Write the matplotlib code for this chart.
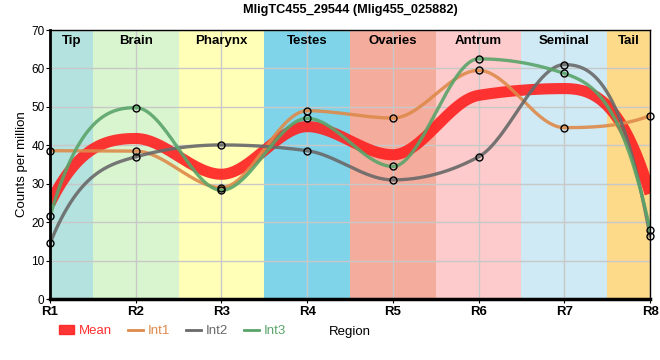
import matplotlib

matplotlib.use("Agg")
import matplotlib.pyplot as plt
import numpy as np
from matplotlib.lines import Line2D
from matplotlib.patches import Patch

plt.rcParams["font.family"] = ["Liberation Sans", "DejaVu Sans"]

regions = ["R1", "R2", "R3", "R4", "R5", "R6", "R7", "R8"]
int1 = [38.6, 38.5, 29.0, 49.0, 47.1, 59.5, 44.6, 47.7]
int2 = [14.5, 37.0, 40.1, 38.6, 31.0, 37.0, 61.0, 16.5]
int3 = [21.5, 49.8, 28.3, 47.0, 34.5, 62.5, 58.7, 18.0]

tissues = ["Tip", "Brain", "Pharynx", "Testes", "Ovaries", "Antrum", "Seminal", "Tail"]
tissue_colors = ["#b4e2de", "#d9f5cf", "#ffffb8", "#7fd4ea", "#f4ac9d", "#fdcbcb", "#cfeaf4", "#fdd98a"]


def monotone(x, y, n=60, end_k=1.8):
    # monotone hermite interpolation, steeper end tangents
    x = np.asarray(x, float)
    y = np.asarray(y, float)
    h = np.diff(x)
    s = np.diff(y) / h
    t = np.zeros(len(x))
    for i in range(1, len(x) - 1):
        p = (s[i - 1] * h[i] + s[i] * h[i - 1]) / (h[i - 1] + h[i])
        t[i] = (np.sign(s[i - 1]) + np.sign(s[i])) * min(abs(s[i - 1]), abs(s[i]), 0.5 * abs(p))
    t[0] = end_k * (3 * s[0] - t[1]) / 2
    t[-1] = end_k * (3 * s[-1] - t[-2]) / 2
    xs, ys = [], []
    for i in range(len(x) - 1):
        u = np.linspace(0, 1, n)
        h00 = 2 * u**3 - 3 * u**2 + 1
        h10 = u**3 - 2 * u**2 + u
        h01 = -2 * u**3 + 3 * u**2
        h11 = u**3 - u**2
        xs.append(x[i] + u * h[i])
        ys.append(h00 * y[i] + h10 * h[i] * t[i] + h01 * y[i + 1] + h11 * h[i] * t[i + 1])
    return np.concatenate(xs), np.concatenate(ys)


xpos = np.arange(1, len(regions) + 1)
mean = (np.array(int1) + np.array(int2) + np.array(int3)) / 3

fig = plt.figure(figsize=(6.6, 3.6), dpi=100)
ax = fig.add_axes([0.0758, 0.1694, 0.9091, 0.7472])

edges = [1, 1.5, 2.5, 3.5, 4.5, 5.5, 6.5, 7.5, 8]
for i, (name, col) in enumerate(zip(tissues, tissue_colors)):
    ax.axvspan(edges[i], edges[i + 1], color=col, lw=0, zorder=0)
    ax.text((edges[i] + edges[i + 1]) / 2, 68.6, name, ha="center", va="top",
            fontsize=9.5, fontweight="bold", zorder=5)

ax.grid(True, color="#c8c8c8", lw=1, zorder=1)
for gl in ax.get_xgridlines() + ax.get_ygridlines():
    gl.set_zorder(1)

series = [(int1, "#de8a4a", "Int1"), (int2, "#696969", "Int2"), (int3, "#5aa46a", "Int3")]
xm, ym = monotone(xpos, mean)
ax.plot(xm, ym, color="#ff2020", lw=8, alpha=0.9, zorder=3, solid_capstyle="butt")
for vals, col, lab in series:
    xs, ys = monotone(xpos, vals)
    ax.plot(xs, ys, color=col, lw=2.4, alpha=0.9, zorder=4)
    ax.plot(xpos, vals, "o", ms=5, mfc="none", mec="black", mew=1, zorder=6, clip_on=False)

ax.set_xlim(1, 8)
ax.set_ylim(0, 70)
ax.set_xticks(xpos)
ax.set_xticklabels(regions, fontsize=9.5, fontweight="bold")
ax.set_yticks(range(0, 71, 10))
ax.tick_params(axis="y", labelsize=8.5, length=3, pad=1)
ax.tick_params(axis="x", length=3, pad=2)
for side in ["top", "right"]:
    ax.spines[side].set_linewidth(1)
ax.spines["left"].set_linewidth(2)
ax.spines["bottom"].set_linewidth(2.5)
for sp in ax.spines.values():
    sp.set_zorder(7)

ax.set_ylabel("Counts per million", fontsize=9.5, labelpad=2)
ax.set_xlabel("Region", fontsize=9.5, labelpad=6)
ax.set_title("MligTC455_29544 (Mlig455_025882)", fontsize=9.2, fontweight="bold", pad=12)

handles = [Patch(color="#ff2020", alpha=0.9)] + [Line2D([], [], color=c, lw=2) for _, c, _ in series]
labels = ["Mean"] + [lab for _, _, lab in series]
fig.legend(handles, labels, loc="center left", bbox_to_anchor=(0.072, 0.08), ncol=4,
           frameon=False, fontsize=9.5, handlelength=1.1, handletextpad=0.4, columnspacing=1.2,
           labelcolor=["#ff3030", "#de8a4a", "#696969", "#5aa46a"])

fig.savefig("out.png", dpi=100)
